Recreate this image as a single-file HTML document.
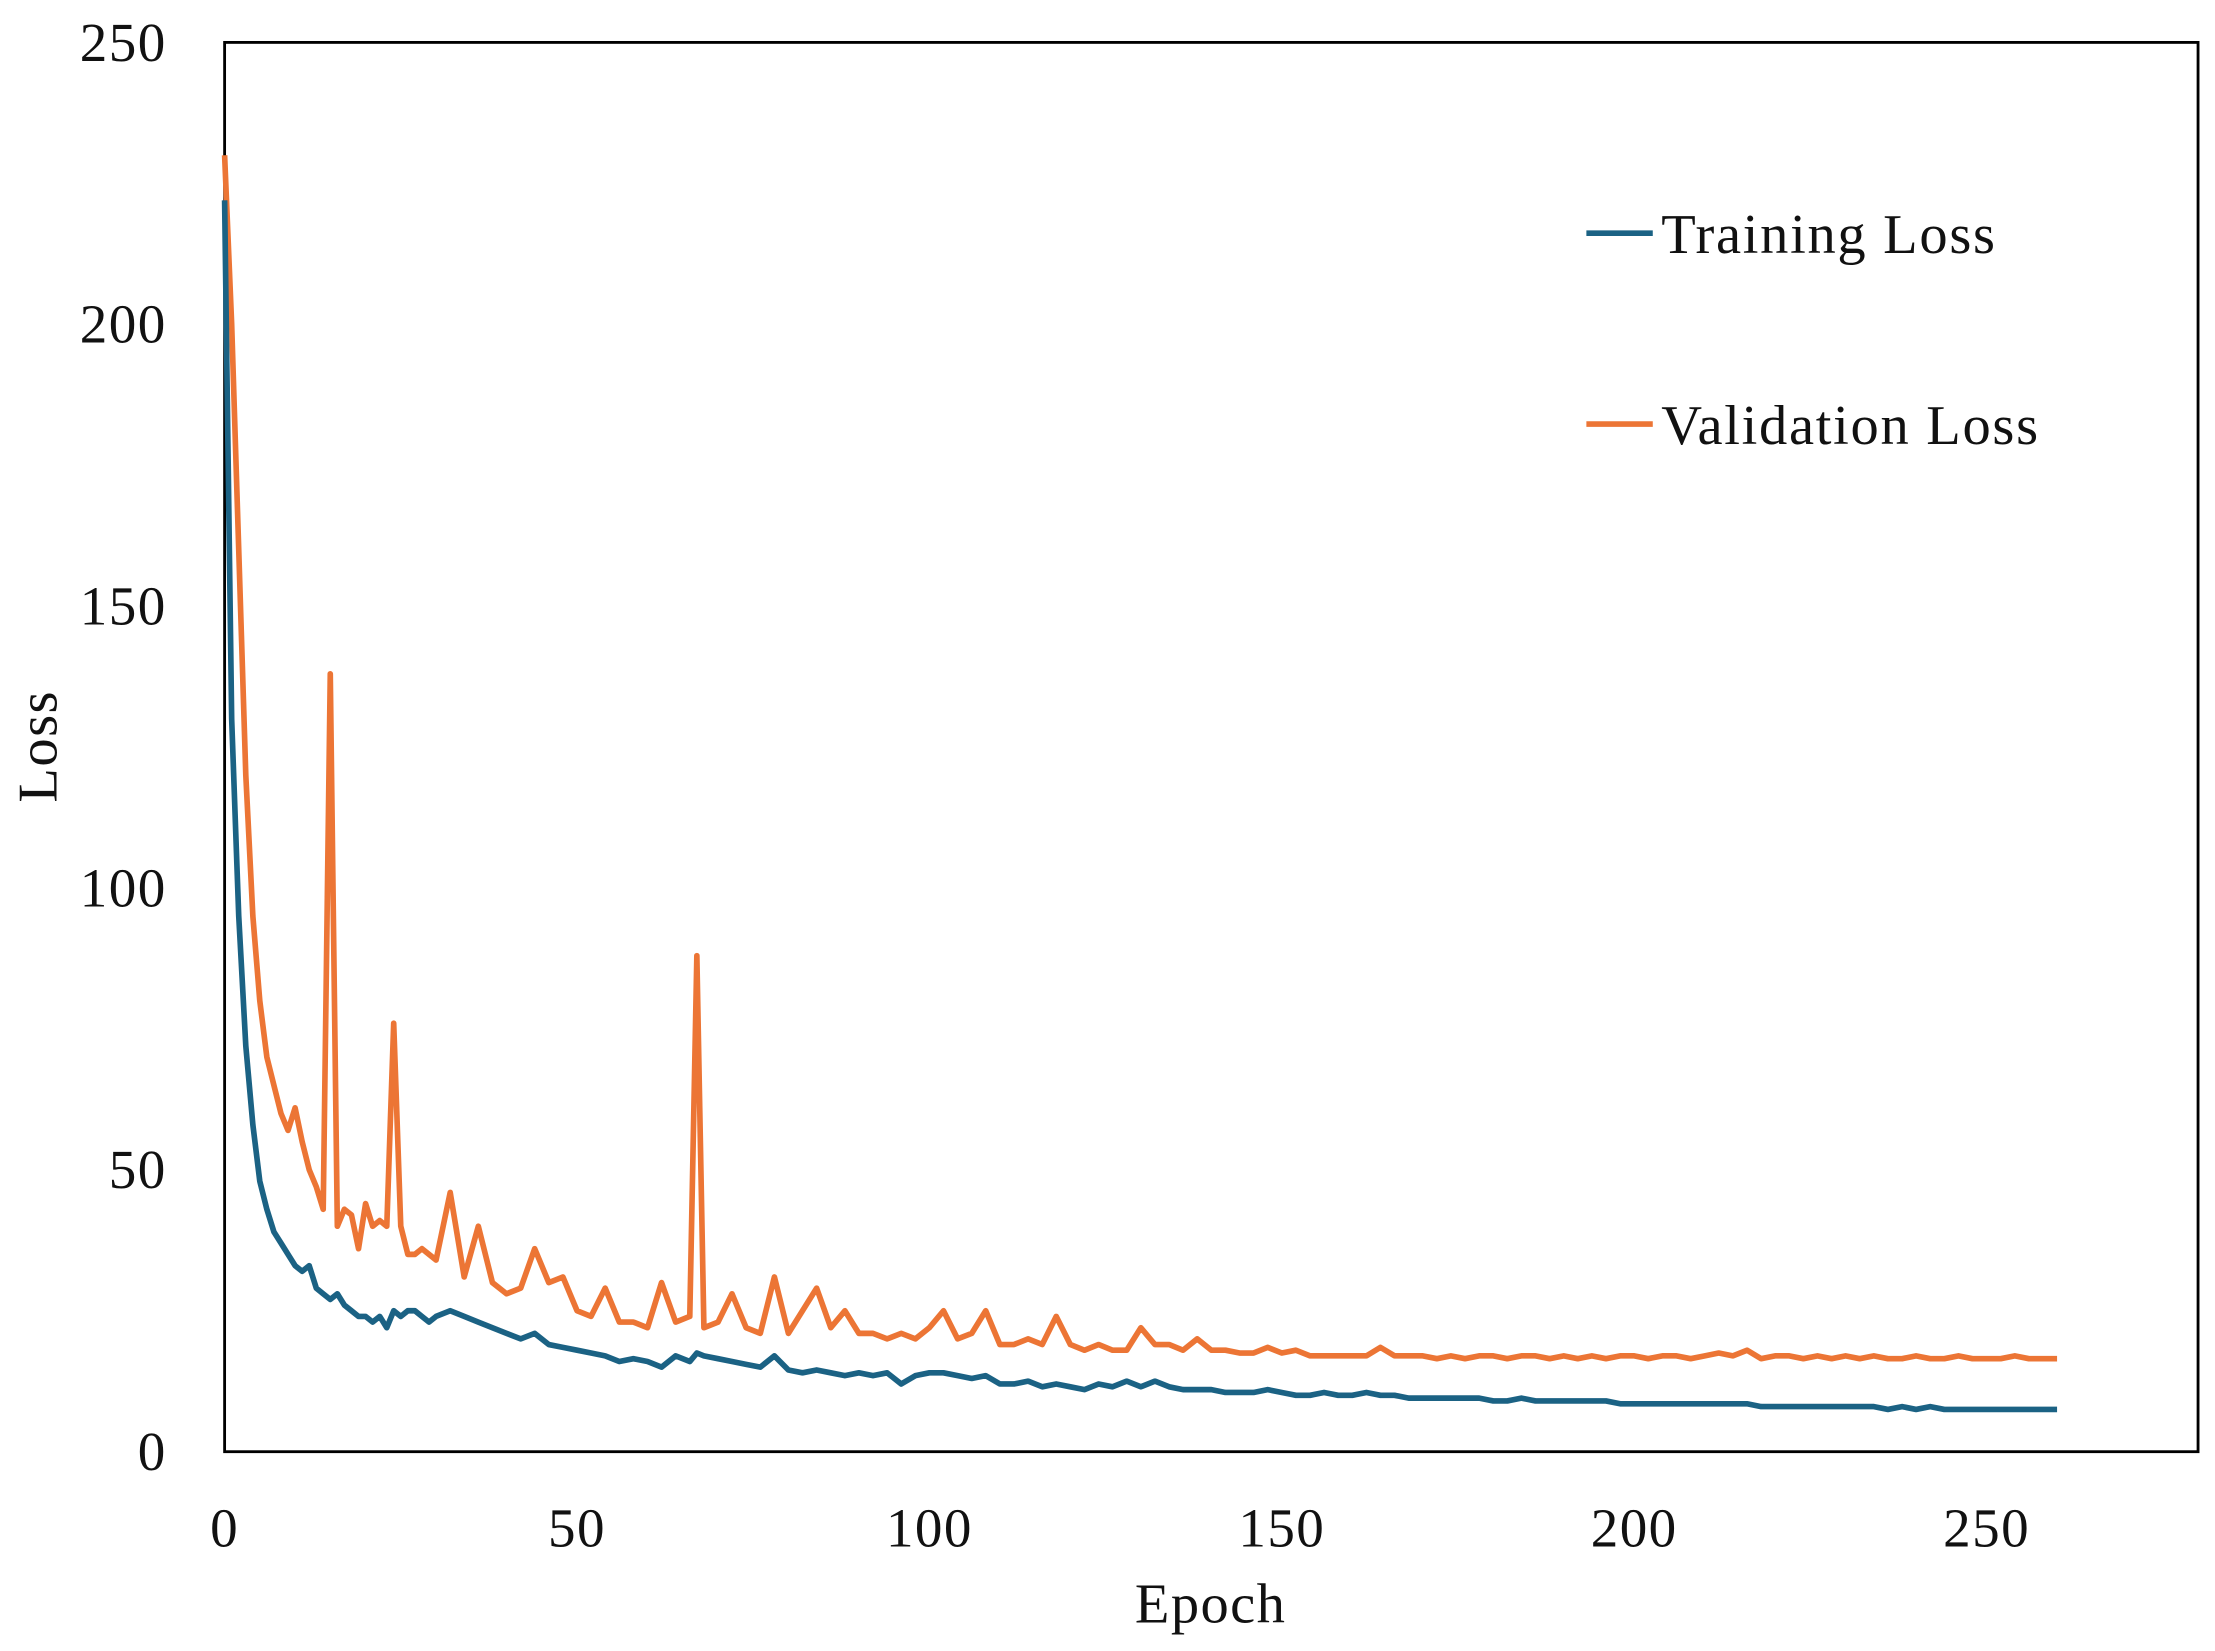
<!DOCTYPE html>
<html><head><meta charset="utf-8"><style>
html,body{margin:0;padding:0;background:#fff;}
svg{display:block;}
text{font-family:"Liberation Serif",serif;fill:#111;}
</style></head><body>
<svg id="chart" width="2215" height="1651" viewBox="0 0 1568 1168" preserveAspectRatio="none" xmlns="http://www.w3.org/2000/svg">
<rect x="159" y="30" width="1397" height="997" fill="#fff" stroke="#000" stroke-width="2"/>
<g id="yticks"></g><g id="xticks"></g>
<g id="series"></g>
<text x="857" y="1148" font-size="40" text-anchor="middle" letter-spacing="1">Epoch</text>
<text x="0" y="0" font-size="40" text-anchor="middle" letter-spacing="1" transform="translate(40,528) rotate(-90)">Loss</text>
<g>
<g>
<line x1="1123" y1="165" x2="1170" y2="165" stroke="#1b6284" stroke-width="4"/>
<text x="1176" y="179" font-size="40" letter-spacing="1.2">Training Loss</text></g>
<g>
<line x1="1123" y1="300" x2="1170" y2="300" stroke="#ec7535" stroke-width="4"/>
<text x="1176" y="314" font-size="40" letter-spacing="1.2">Validation Loss</text></g>
</g>
</svg>
<script>
const yTicks=[0,50,100,150,200,250];
const xTicks=[0,50,100,150,200,250];
const epochs=[0,1,2,3,4,5,6,7,8,9,10,11,12,13,14,15,16,17,18,19,20,21,22,23,24,25,26,27,28,29,30,
32,34,36,38,40,42,44,46,48,50,52,54,56,58,60,62,64,66,67,68,70,72,74,76,78,80,82,84,86,88,90,92,94,96,98,100,
102,104,106,108,110,112,114,116,118,120,122,124,126,128,130,132,134,136,138,140,142,144,146,148,150,152,154,156,158,160,
162,164,166,168,170,172,174,176,178,180,182,184,186,188,190,192,194,196,198,200,202,204,206,208,210,212,214,216,218,220,
222,224,226,228,230,232,234,236,238,240,242,244,246,248,250,252,254,256,258,260];
const trainingLoss=[222,130,95,72,58,48,43,39,37,35,33,32,33,29,28,27,28,26,25,24,24,23,24,22,25,24,25,25,24,23,24,
25,24,23,22,21,20,21,19,18.5,18,17.5,17,16,16.5,16,15,17,16,17.5,17,16.5,16,15.5,15,17,14.5,14,14.5,14,13.5,14,13.5,14,12,13.5,14,
14,13.5,13,13.5,12,12,12.5,11.5,12,11.5,11,12,11.5,12.5,11.5,12.5,11.5,11,11,11,10.5,10.5,10.5,11,10.5,10,10,10.5,10,10,
10.5,10,10,9.5,9.5,9.5,9.5,9.5,9.5,9,9,9.5,9,9,9,9,9,9,8.5,8.5,8.5,8.5,8.5,8.5,8.5,8.5,8.5,8.5,8,8,
8,8,8,8,8,8,8,7.5,8,7.5,8,7.5,7.5,7.5,7.5,7.5,7.5,7.5,7.5,7.5];
const validationLoss=[230,200,160,120,95,80,70,65,60,57,61,55,50,47,43,138,40,43,42,36,44,40,41,40,76,40,35,35,36,35,34,
46,31,40,30,28,29,36,30,31,25,24,29,23,23,22,30,23,24,88,22,23,28,22,21,31,21,25,29,22,25,21,21,20,21,20,22,
25,20,21,25,19,19,20,19,24,19,18,19,18,18,22,19,19,18,20,18,18,17.5,17.5,18.5,17.5,18,17,17,17,17,
17,18.5,17,17,17,16.5,17,16.5,17,17,16.5,17,17,16.5,17,16.5,17,16.5,17,17,16.5,17,17,16.5,17,17.5,17,18,16.5,17,
17,16.5,17,16.5,17,16.5,17,16.5,16.5,17,16.5,16.5,17,16.5,16.5,16.5,17,16.5,16.5,16.5];
const NS="http://www.w3.org/2000/svg";
const X0=159,X1=1556,Y0=1027,Y1=30,XMAX=280,YMAX=250;
function xs(v){return X0+(X1-X0)*v/XMAX;}
function ys(v){return Y0-(Y0-Y1)*v/YMAX;}
const yg=document.getElementById('yticks');
yTicks.forEach(t=>{const el=document.createElementNS(NS,'text');
el.setAttribute('x',118);el.setAttribute('y',ys(t)+13);el.setAttribute('font-size','39');el.setAttribute('text-anchor','end');el.setAttribute('letter-spacing','1');
el.textContent=t;


yg.appendChild(el);});
const xg=document.getElementById('xticks');
xTicks.forEach(t=>{const el=document.createElementNS(NS,'text');
el.setAttribute('x',xs(t));el.setAttribute('y',1094);el.setAttribute('font-size','39');el.setAttribute('text-anchor','middle');el.setAttribute('letter-spacing','1');
el.textContent=t;


xg.appendChild(el);});
const sg=document.getElementById('series');
function draw(vals,color,name){const p=document.createElementNS(NS,'polyline');
p.setAttribute('points',epochs.map((e,i)=>xs(e).toFixed(1)+','+ys(vals[i]).toFixed(1)).join(' '));
p.setAttribute('fill','none');p.setAttribute('stroke',color);p.setAttribute('stroke-width','4');p.setAttribute('stroke-linejoin','round');


sg.appendChild(p);}
draw(validationLoss,'#ec7535','validation-loss-line');
draw(trainingLoss,'#1b6284','training-loss-line');
</script>
</body></html>
